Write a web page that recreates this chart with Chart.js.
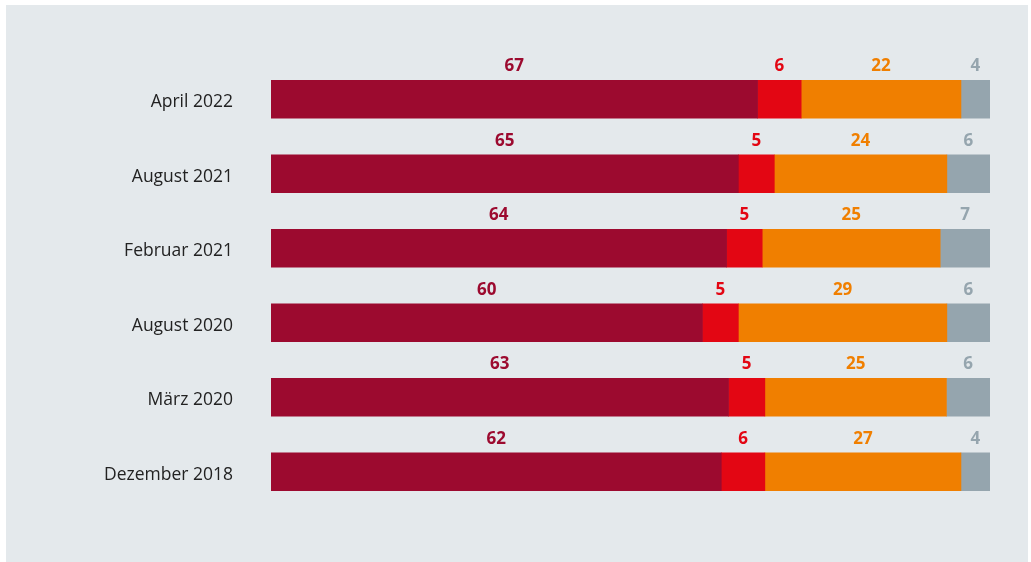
<!DOCTYPE html>
<html>
<head>
<meta charset="utf-8">
<script src="https://cdn.jsdelivr.net/npm/chart.js@4"></script>
<style>
  body { margin: 0; background: #ffffff; }
  #panel {
    position: absolute; left: 6px; top: 5px;
    width: 1022px; height: 557px;
    background: #e4e9ec;
  }
</style>
</head>
<body>
<div id="panel"><canvas id="chart" width="1022" height="557"></canvas></div>
<script>
// Survey waves, newest first
var categories = ['April 2022', 'August 2021', 'Februar 2021', 'August 2020', 'März 2020', 'Dezember 2018'];

// Answer shares in percent per wave
var shareA = [67, 65, 64, 60, 63, 62];
var shareB = [6, 5, 5, 5, 5, 6];
var shareC = [22, 24, 25, 29, 25, 27];
var shareD = [4, 6, 7, 6, 6, 4];

var seriesValues = [shareA, shareB, shareC, shareD];
var seriesColors = ['#9c0a2f', '#e30613', '#f07f00', '#95a5ae'];

// rounded shares do not always add up to 100, so each bar is scaled to full width
var totals = categories.map(function(c, i) {
    return shareA[i] + shareB[i] + shareC[i] + shareD[i];
});

var datasets = seriesValues.map(function(values, s) {
    return {
        data: values.map(function(v, i) { return v / totals[i] * 100; }),
        raw: values,
        backgroundColor: seriesColors[s],
        barThickness: 38,
        borderWidth: 0
    };
});

// numbers above each segment, in the segment colour
var segmentLabels = {
    id: 'segmentLabels',
    afterDatasetsDraw: function(chart) {
        var ctx = chart.ctx;
        ctx.save();
        ctx.font = 'bold 17px "Open Sans"';
        ctx.textAlign = 'center';
        ctx.textBaseline = 'middle';
        chart.data.datasets.forEach(function(ds, s) {
            var meta = chart.getDatasetMeta(s);
            meta.data.forEach(function(bar, i) {
                var p = bar.getProps(['x', 'y', 'base', 'height'], true);
                ctx.fillStyle = ds.backgroundColor;
                ctx.fillText(ds.raw[i], (p.x + p.base) / 2, p.y - p.height / 2 - 14);
            });
        });
        ctx.restore();
    }
};

var ctx = document.getElementById('chart').getContext('2d');
new Chart(ctx, {
    type: 'bar',
    data: {
        labels: categories,
        datasets: datasets
    },
    options: {
        indexAxis: 'y',
        responsive: false,
        animation: false,
        layout: {
            padding: { left: 0, right: 38, top: 57, bottom: 53 }
        },
        plugins: {
            legend: { display: false },
            tooltip: { enabled: false }
        },
        scales: {
            x: {
                stacked: true,
                display: false,
                min: 0,
                max: 100
            },
            y: {
                stacked: true,
                grid: { display: false, drawTicks: false },
                border: { display: false },
                ticks: {
                    padding: 38,
                    labelOffset: 3,
                    color: '#222222',
                    font: { family: '"Open Sans"', size: 17.5 }
                },
                afterFit: function(scale) { scale.width = 265; }
            }
        }
    },
    plugins: [segmentLabels]
});
</script>
</body>
</html>
